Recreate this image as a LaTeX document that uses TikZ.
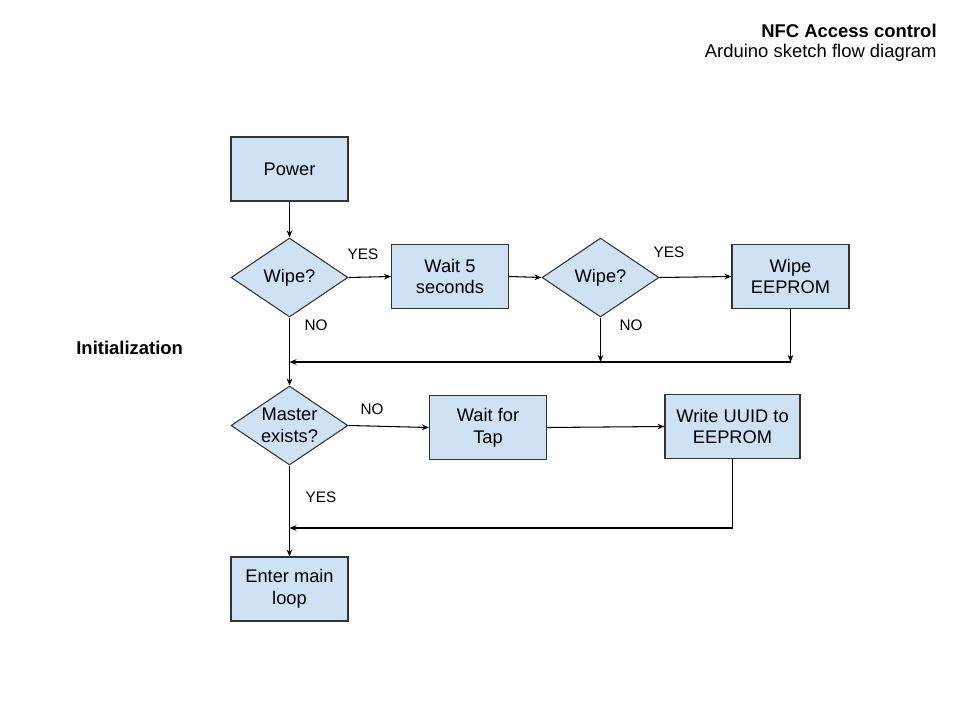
\documentclass[tikz,border=0pt]{standalone}
\usepackage{fontspec}
\setmainfont{Liberation Sans}
\usetikzlibrary{shapes.geometric,arrows.meta}

\definecolor{boxblue}{HTML}{CFE2F3}
\definecolor{edgegray}{HTML}{333333}

\tikzset{
  stepbox/.style={draw=edgegray, fill=boxblue, line width=0.6pt, align=center,
    minimum width=2.34cm, minimum height=1.28cm, inner sep=1pt,
    font=\fontsize{10.4}{12.4}\selectfont},
  choice/.style={draw=edgegray, fill=boxblue, line width=0.6pt, align=center,
    diamond, aspect=1.48, minimum width=2.34cm, minimum height=1.58cm, inner sep=0pt,
    font=\fontsize{10.4}{12.4}\selectfont},
  flow/.style={draw=black, line width=0.6pt, -{Stealth[length=4pt,width=3.2pt]}},
  tag/.style={font=\fontsize{8.7}{10}\selectfont, inner sep=0pt}
}

\begin{document}
\begin{tikzpicture}[x=0.02cm, y=-0.02cm]
    \useasboundingbox (0,0) rectangle (960,720);
    % title
    \node[anchor=east, font=\fontsize{10.5}{12.6}\selectfont\bfseries, inner sep=0pt] (title) at (937,31) {NFC Access control};
    \node[anchor=east, font=\fontsize{10.5}{12.6}\selectfont, inner sep=0pt] (subtitle) at (937,53) {Arduino sketch flow diagram};
    \node[anchor=west, font=\fontsize{10.5}{12.6}\selectfont\bfseries, inner sep=0pt] (init) at (76,348) {Initialization};
    % steps
    \node[stepbox] (power) at (289.5,169) {Power};
    \node[choice] (wipeA) at (289.5,277.5) {Wipe?};
    \node[stepbox] (waitFive) at (450,276.5) {Wait 5\\seconds};
    \node[choice] (wipeB) at (600.5,277.5) {Wipe?};
    \node[stepbox] (wipeRom) at (790.5,276.5) {Wipe\\EEPROM};
    \node[choice] (master) at (289.5,425.5) {Master\\exists?};
    \node[stepbox] (waitTap) at (488,427.5) {Wait for\\Tap};
    \node[stepbox, minimum width=2.7cm] (writeId) at (732.5,426.5) {Write UUID to\\EEPROM};
    \node[stepbox] (mainLoop) at (289.5,589) {Enter main\\loop};
    \coordinate (joinB) at (wipeB.south |- 0,362);
    \coordinate (joinR) at (wipeRom.south |- 0,362);
    \coordinate (joinL) at (289.5,362);
    \coordinate (backL) at (289.5,528);
    % connectors
    \draw[flow] (power) -- (wipeA);
    \draw[flow] (wipeA.east) -- (waitFive.west);
    \draw[flow] (waitFive.east) -- (wipeB.west);
    \draw[flow] (wipeB.east) -- (wipeRom.west);
    \draw[flow] (wipeA.south) -- (master.north);
    \draw[flow] (wipeB.south) -- (joinB);
    \draw[flow] (wipeRom.south) -- (joinR);
    \draw[flow] (joinR) -- (joinL);
    \draw[flow] (master.east) -- (waitTap.west);
    \draw[flow] (waitTap.east) -- (writeId.west);
    \draw[flow] (writeId.south) |- (backL);
    \draw[flow] (master.south) -- (mainLoop.north);
    % labels
    \node[tag] (yesA) at (363,254) {YES};
    \node[tag] (noA) at (316,325) {NO};
    \node[tag] (yesB) at (669,252) {YES};
    \node[tag] (noB) at (631,325) {NO};
    \node[tag] (noC) at (372,409) {NO};
    \node[tag] (yesC) at (321,497) {YES};
\end{tikzpicture}
\end{document}
